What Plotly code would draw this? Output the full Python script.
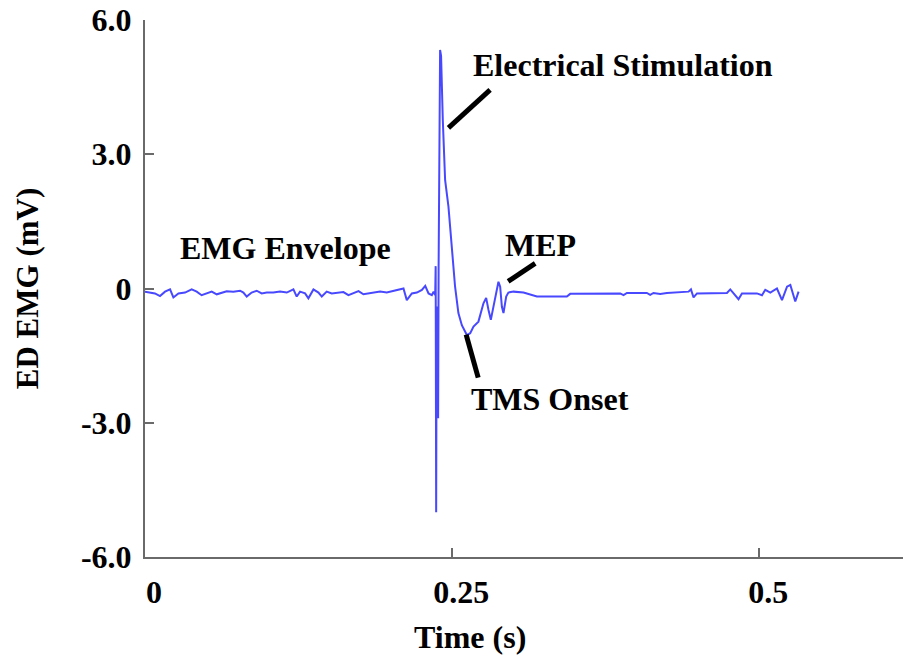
import plotly.graph_objects as go

# ---- data ----
baseline_t = [0.000, 0.0081, 0.0122, 0.0163, 0.0204, 0.0231, 0.0272, 0.0326, 0.0380, 0.0421,
              0.0461, 0.0502, 0.0543, 0.0584, 0.0624, 0.0665, 0.0719, 0.0774, 0.0801, 0.0828,
              0.0868, 0.0909, 0.0950, 0.0991, 0.1045, 0.1099, 0.1154, 0.1208, 0.1235, 0.1262,
              0.1303, 0.1330, 0.1371, 0.1412, 0.1439, 0.1479, 0.1520, 0.1561, 0.1615, 0.1656,
              0.1697, 0.1738, 0.1778, 0.1819, 0.1860, 0.1914, 0.1968, 0.2023, 0.2064, 0.2104,
              0.2131, 0.2172, 0.2213, 0.2254, 0.2281, 0.2308, 0.2335, 0.2349]
baseline_v = [-0.07, -0.11, -0.17, -0.07, -0.02, -0.20, -0.11, -0.09, -0.02, -0.07,
              -0.15, -0.11, -0.07, -0.13, -0.09, -0.06, -0.07, -0.05, -0.09, -0.18,
              -0.09, -0.05, -0.11, -0.09, -0.09, -0.07, -0.09, -0.02, -0.18, -0.07,
              -0.11, -0.22, -0.02, -0.09, -0.18, -0.07, -0.11, -0.09, -0.08, -0.15,
              -0.11, -0.06, -0.13, -0.11, -0.08, -0.07, -0.09, -0.05, -0.03, 0.00,
              -0.26, -0.11, -0.09, -0.03, 0.06, -0.11, -0.15, -0.07]

response_t = [0.2362, 0.2366, 0.2370, 0.2374, 0.2378, 0.2382, 0.2386, 0.2390, 0.2402, 0.2410,
              0.2424, 0.2443, 0.2470, 0.2498, 0.2524, 0.2551, 0.2579, 0.2620, 0.2647, 0.2674,
              0.2714, 0.2755, 0.2777, 0.2796, 0.2815, 0.2836, 0.2877, 0.2891, 0.2905, 0.2918,
              0.2940, 0.2958, 0.2986]
response_v = [-0.15, 0.50, -5.00, -0.40, -2.90, -0.40, -2.90, 0.50, 5.33, 5.20,
              3.77, 2.42, 1.83, 0.79, 0.04, -0.55, -0.82, -1.04, -1.00, -0.85,
              -0.74, -0.33, -0.21, -0.48, -0.70, -0.41, 0.15, 0.04, -0.41, -0.55,
              -0.18, -0.09, -0.07]

tail_t = [0.2999, 0.3081, 0.3190, 0.3434, 0.3461, 0.3868, 0.3895, 0.3923, 0.4085, 0.4112,
          0.4139, 0.4194, 0.4248, 0.4424, 0.4444, 0.4465, 0.4493, 0.4737, 0.4764, 0.4831,
          0.4859, 0.4981, 0.5022, 0.5049, 0.5090, 0.5144, 0.5185, 0.5226, 0.5253, 0.5293,
          0.5320]
tail_v = [-0.07, -0.09, -0.18, -0.18, -0.12, -0.11, -0.15, -0.10, -0.10, -0.14,
          -0.10, -0.12, -0.10, -0.07, -0.02, -0.20, -0.11, -0.10, -0.02, -0.24,
          -0.11, -0.11, -0.15, -0.03, -0.09, 0.00, -0.26, 0.04, 0.08, -0.29,
          -0.07]

x_tick_vals = [0, 0.25, 0.5]
x_tick_text = ["0", "0.25", "0.5"]
y_tick_vals = [6, 3, 0, -3, -6]
y_tick_text = ["6.0", "3.0", "0", "-3.0", "-6.0"]

labels = ["Electrical Stimulation", "MEP", "EMG Envelope", "TMS Onset"]
label_t = [0.2655, 0.2915, 0.0270, 0.2640]
label_v = [5.00, 0.98, 0.91, -2.48]
pointer_t0 = [0.2470, 0.2956, 0.2614]
pointer_v0 = [3.59, 0.16, -1.03]
pointer_t1 = [0.2809, 0.3176, 0.2712]
pointer_v1 = [4.44, 0.56, -1.99]

t = baseline_t + response_t + tail_t
v = baseline_v + response_v + tail_v

FONT = "Liberation Serif, Times New Roman, serif"
AXIS_COLOR = "#6a6a6a"

fig = go.Figure()
fig.add_trace(go.Scatter(x=t, y=v, mode="lines",
                         line=dict(color="#4848ff", width=2), showlegend=False))

for x0, y0, x1, y1 in zip(pointer_t0, pointer_v0, pointer_t1, pointer_v1):
    fig.add_shape(type="line", xref="x", yref="y", x0=x0, y0=y0, x1=x1, y1=y1,
                  line=dict(color="black", width=5))

for txt, xt, yt in zip(labels, label_t, label_v):
    fig.add_annotation(x=xt, y=yt, xref="x", yref="y", text=txt, showarrow=False,
                       xanchor="left", yanchor="middle",
                       font=dict(family=FONT, size=32, color="black", weight="bold"))

fig.add_annotation(x=0.2647, y=-0.112, xref="x", yref="paper", text="Time (s)",
                   showarrow=False, xanchor="center", yanchor="top",
                   font=dict(family=FONT, size=32, color="black", weight="bold"))

fig.update_layout(
    width=903, height=661,
    margin=dict(l=145, r=0, t=20, b=104),
    paper_bgcolor="white", plot_bgcolor="white",
    font=dict(family=FONT, size=32, color="black", weight="bold"),
    xaxis=dict(range=[0, 0.617], tickvals=x_tick_vals, ticktext=x_tick_text,
               showgrid=False, zeroline=False, showline=True, linecolor=AXIS_COLOR,
               linewidth=2, ticks="inside", ticklen=9, tickwidth=2, tickcolor=AXIS_COLOR,
               ticklabelstandoff=6, ticklabelshift=9, automargin=False,
               tickfont=dict(family=FONT, size=32, color="black", weight="bold")),
    yaxis=dict(range=[-6, 6], tickvals=y_tick_vals, ticktext=y_tick_text,
               showgrid=False, zeroline=False, showline=True, linecolor=AXIS_COLOR,
               linewidth=2, ticks="inside", ticklen=9, tickwidth=2, tickcolor=AXIS_COLOR,
               ticklabelstandoff=5, automargin=False,
               title=dict(text="ED EMG (mV)", standoff=33,
                          font=dict(family=FONT, size=31, color="black", weight="bold")),
               tickfont=dict(family=FONT, size=32, color="black", weight="bold")),
)

# remove the page's default 8px body margin so the figure fills the window exactly
fig.write_html("out.html", config={"displayModeBar": False},
               post_script="document.body.style.margin='0';")
